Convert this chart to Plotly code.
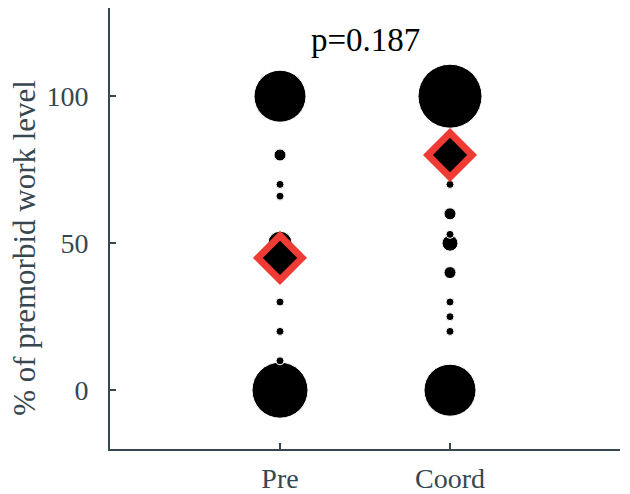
import plotly.graph_objects as go

# ---- data ----
categories = ["Pre", "Coord"]
pre_values = [0, 10, 20, 30, 50, 66, 70, 80, 100]
pre_counts = [13, 1, 1, 1, 5, 1, 1, 2, 12]
coord_values = [0, 20, 25, 30, 40, 50, 53, 60, 70, 100]
coord_counts = [12, 1, 1, 1, 2, 3, 1, 2, 1, 15]
summary_values = [45, 80]
p_value = 0.187
y_tick_values = [0, 50, 100]
y_title = "% of premorbid work level"

AXIS_COLOR = "#37474f"
RED = "#EF3B33"
FONT = "Liberation Serif"


def size_for(n):
    return 4 + 4 * n


fig = go.Figure()
groups = [(pre_values, pre_counts), (coord_values, coord_counts)]
for i, (vals, cnts) in enumerate(groups):
    fig.add_trace(go.Scatter(
        x=[i + 1] * len(vals), y=vals, mode="markers",
        marker=dict(color="black", opacity=1, size=[size_for(c) for c in cnts],
                    line=dict(color="white", width=1)),
        showlegend=False, hoverinfo="skip"))

fig.add_trace(go.Scatter(
    x=[1, 2], y=summary_values, mode="markers",
    marker=dict(symbol="diamond", color="black", opacity=1, size=34,
                line=dict(color=RED, width=7)),
    showlegend=False, hoverinfo="skip"))

fig.add_annotation(x=1.5, y=119, xref="x", yref="y", text=f"p={p_value}",
                   showarrow=False, font=dict(family=FONT, size=33, color="black"))

fig.add_annotation(x=-0.168, y=0.457, xref="paper", yref="paper", text=y_title,
                   textangle=-90, showarrow=False, xanchor="center", yanchor="middle",
                   font=dict(family=FONT, size=31, color=AXIS_COLOR))

fig.update_layout(
    width=630, height=494,
    margin=dict(l=102, r=18, t=0, b=53, autoexpand=False),
    paper_bgcolor="white", plot_bgcolor="white",
    font=dict(family=FONT, size=27, color=AXIS_COLOR),
    xaxis=dict(range=[0, 3], tickvals=[1, 2], ticktext=categories, automargin=False,
               showgrid=False, zeroline=False, showline=True, linecolor=AXIS_COLOR,
               linewidth=2, ticks="inside", ticklen=6, tickwidth=1.5, tickcolor=AXIS_COLOR,
               ticklabelstandoff=3, tickfont=dict(family=FONT, size=28, color=AXIS_COLOR)),
    yaxis=dict(range=[-20, 130], tickvals=y_tick_values, automargin=False,
               showgrid=False, zeroline=False, showline=True, linecolor=AXIS_COLOR,
               linewidth=2, ticks="inside", ticklen=6, tickwidth=1.5, tickcolor=AXIS_COLOR,
               ticklabelstandoff=14, tickfont=dict(family=FONT, size=28, color=AXIS_COLOR)),
)

fig.write_html("out.html")
